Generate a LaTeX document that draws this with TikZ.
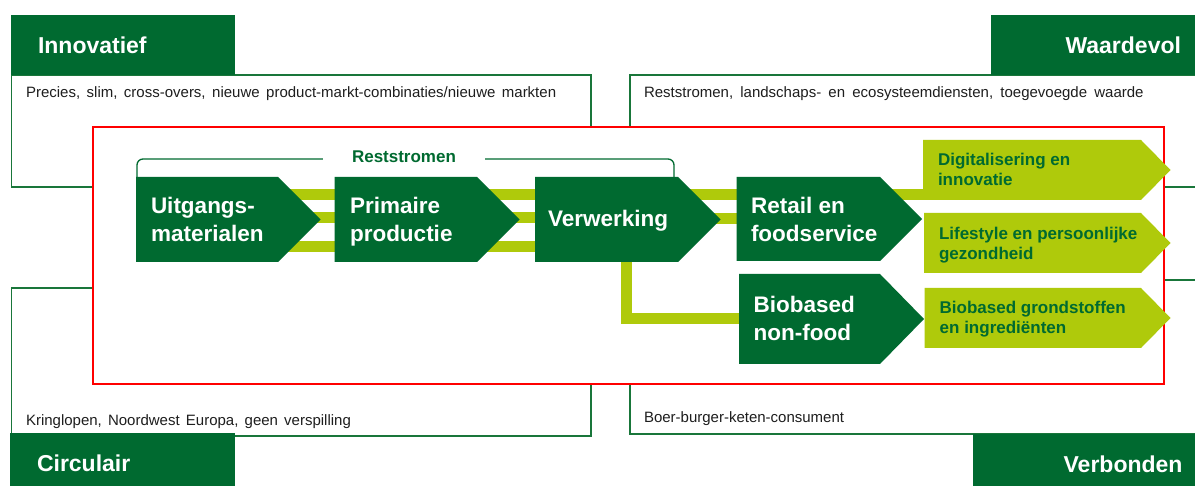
\documentclass[tikz,border=0pt]{standalone}
\usepackage{fontspec}
\setmainfont{Liberation Sans}
\definecolor{dkg}{RGB}{0,106,48}
\definecolor{ltg}{RGB}{175,202,11}
\definecolor{boxg}{RGB}{25,118,58}
\definecolor{txt}{RGB}{30,30,30}
\newcommand{\mytwo}[3]{\vtop{\baselineskip=#1\hbox{#2}\hbox{#3}}}
\newcommand{\chevshape}[6]{\fill[#6] (#1,#2) -- (#3,#2) -- (#4,{(#2+#5)/2}) -- (#3,#5) -- (#1,#5) -- cycle;}
\begin{document}
\begin{tikzpicture}[x=1pt,y=-1pt,
  every node/.style={inner sep=0pt, outer sep=0pt},
  tabtext/.style={font=\fontsize{23}{27}\selectfont\bfseries, text=white},
  bodytext/.style={font=\fontsize{15}{18}\selectfont, text=txt},
  chevtext/.style={font=\fontsize{22.5}{27}\selectfont\bfseries, text=white},
  lighttext/.style={font=\fontsize{17}{20}\selectfont\bfseries, text=dkg},
  greenbox/.style={draw=boxg, line width=1.2pt},
  bar/.style={draw=ltg, line width=11pt}]
\useasboundingbox (0,0) rectangle (1195,486);
\fill[white] (0,0) rectangle (1195,486);
% quadrant boxes
\draw[greenbox] (11.5,75) rectangle (591,187);
\draw[greenbox] (630,75) rectangle (1205,187);
\draw[greenbox] (11.5,288) rectangle (591,436);
\draw[greenbox] (630,280) rectangle (1205,434);
% tabs
\fill[dkg] (11,15) rectangle (235,75);
\fill[dkg] (991,15) rectangle (1195,75);
\fill[dkg] (10,433) rectangle (235,486);
\fill[dkg] (973,434) rectangle (1195,486);
\node[tabtext, anchor=base west] (innov) at (38,54) {Innovatief};
\node[tabtext, anchor=base east] (waard) at (1181,53.5) {Waardevol};
\node[tabtext, anchor=base west] (circ) at (37,471.5) {Circulair};
\node[tabtext, anchor=base east] (verb) at (1182.5,472.5) {Verbonden};
\node[bodytext, anchor=base west] (t1) at (26,97.3) {\spaceskip=6.5pt Precies, slim, cross-overs, nieuwe product-markt-combinaties/nieuwe markten};
\node[bodytext, anchor=base west] (t2) at (644,97.3) {\spaceskip=7.2pt Reststromen, landschaps- en ecosysteemdiensten, toegevoegde waarde};
\node[bodytext, anchor=base west] (t3) at (26,425.7) {\spaceskip=6.2pt Kringlopen, Noordwest Europa, geen verspilling};
\node[bodytext, anchor=base west] (t4) at (644,422.7) {Boer-burger-keten-consument};
% red frame
\draw[red, line width=1.5pt, fill=white] (93,127) rectangle (1164,384);
% bracket
\draw[dkg, line width=1.3pt, rounded corners=6pt] (137,177) -- (137,159) -- (674,159) -- (674,177);
\node[font=\fontsize{17}{20}\selectfont\bfseries, text=dkg, fill=white, minimum width=162pt, anchor=base] (rest) at (404,162.5) {Reststromen};
% bars
\foreach \yy in {194.5,218,246.5} {\draw[bar] (270,\yy) -- (540,\yy);}
\draw[bar] (670,194.5) -- (925,194.5);
\draw[bar] (670,218.5) -- (740,218.5);
\draw[bar] (626,255) |- (742,319);
% dark chevrons
\chevshape{136}{177}{278}{320.5}{262}{dkg}
\chevshape{334.5}{177}{477}{519.5}{262}{dkg}
\chevshape{535}{177}{678}{720.5}{262}{dkg}
\chevshape{736.5}{177}{880}{922}{261}{dkg}
\chevshape{739}{274}{880}{924}{364}{dkg}
% light chevrons
\chevshape{923}{140}{1141}{1170.5}{200}{ltg}
\chevshape{924}{213}{1141}{1170.5}{273}{ltg}
\chevshape{924.5}{288}{1141}{1170.5}{348}{ltg}
% chevron texts
\node[chevtext, anchor=base west] (uit) at (151,213.3) {\mytwo{28.4pt}{Uitgangs-}{materialen}};
\node[chevtext, anchor=base west] (prim) at (350,213.3) {\mytwo{28pt}{Primaire}{productie}};
\node[chevtext, anchor=base west] (verw) at (548,226.7) {Verwerking};
\node[chevtext, anchor=base west] (retail) at (751,213.3) {\mytwo{28pt}{Retail en}{foodservice}};
\node[chevtext, anchor=base west] (bionf) at (753.7,313) {\mytwo{28pt}{Biobased}{non-food}};
\node[lighttext, anchor=base west] (digi) at (938,166) {\mytwo{20pt}{Digitalisering en}{innovatie}};
\node[lighttext, anchor=base west] (life) at (939,239.3) {\mytwo{20pt}{Lifestyle en persoonlijke}{gezondheid}};
\node[lighttext, anchor=base west] (biog) at (939.7,314) {\mytwo{20pt}{Biobased grondstoffen}{en ingrediënten}};
\end{tikzpicture}
\end{document}
